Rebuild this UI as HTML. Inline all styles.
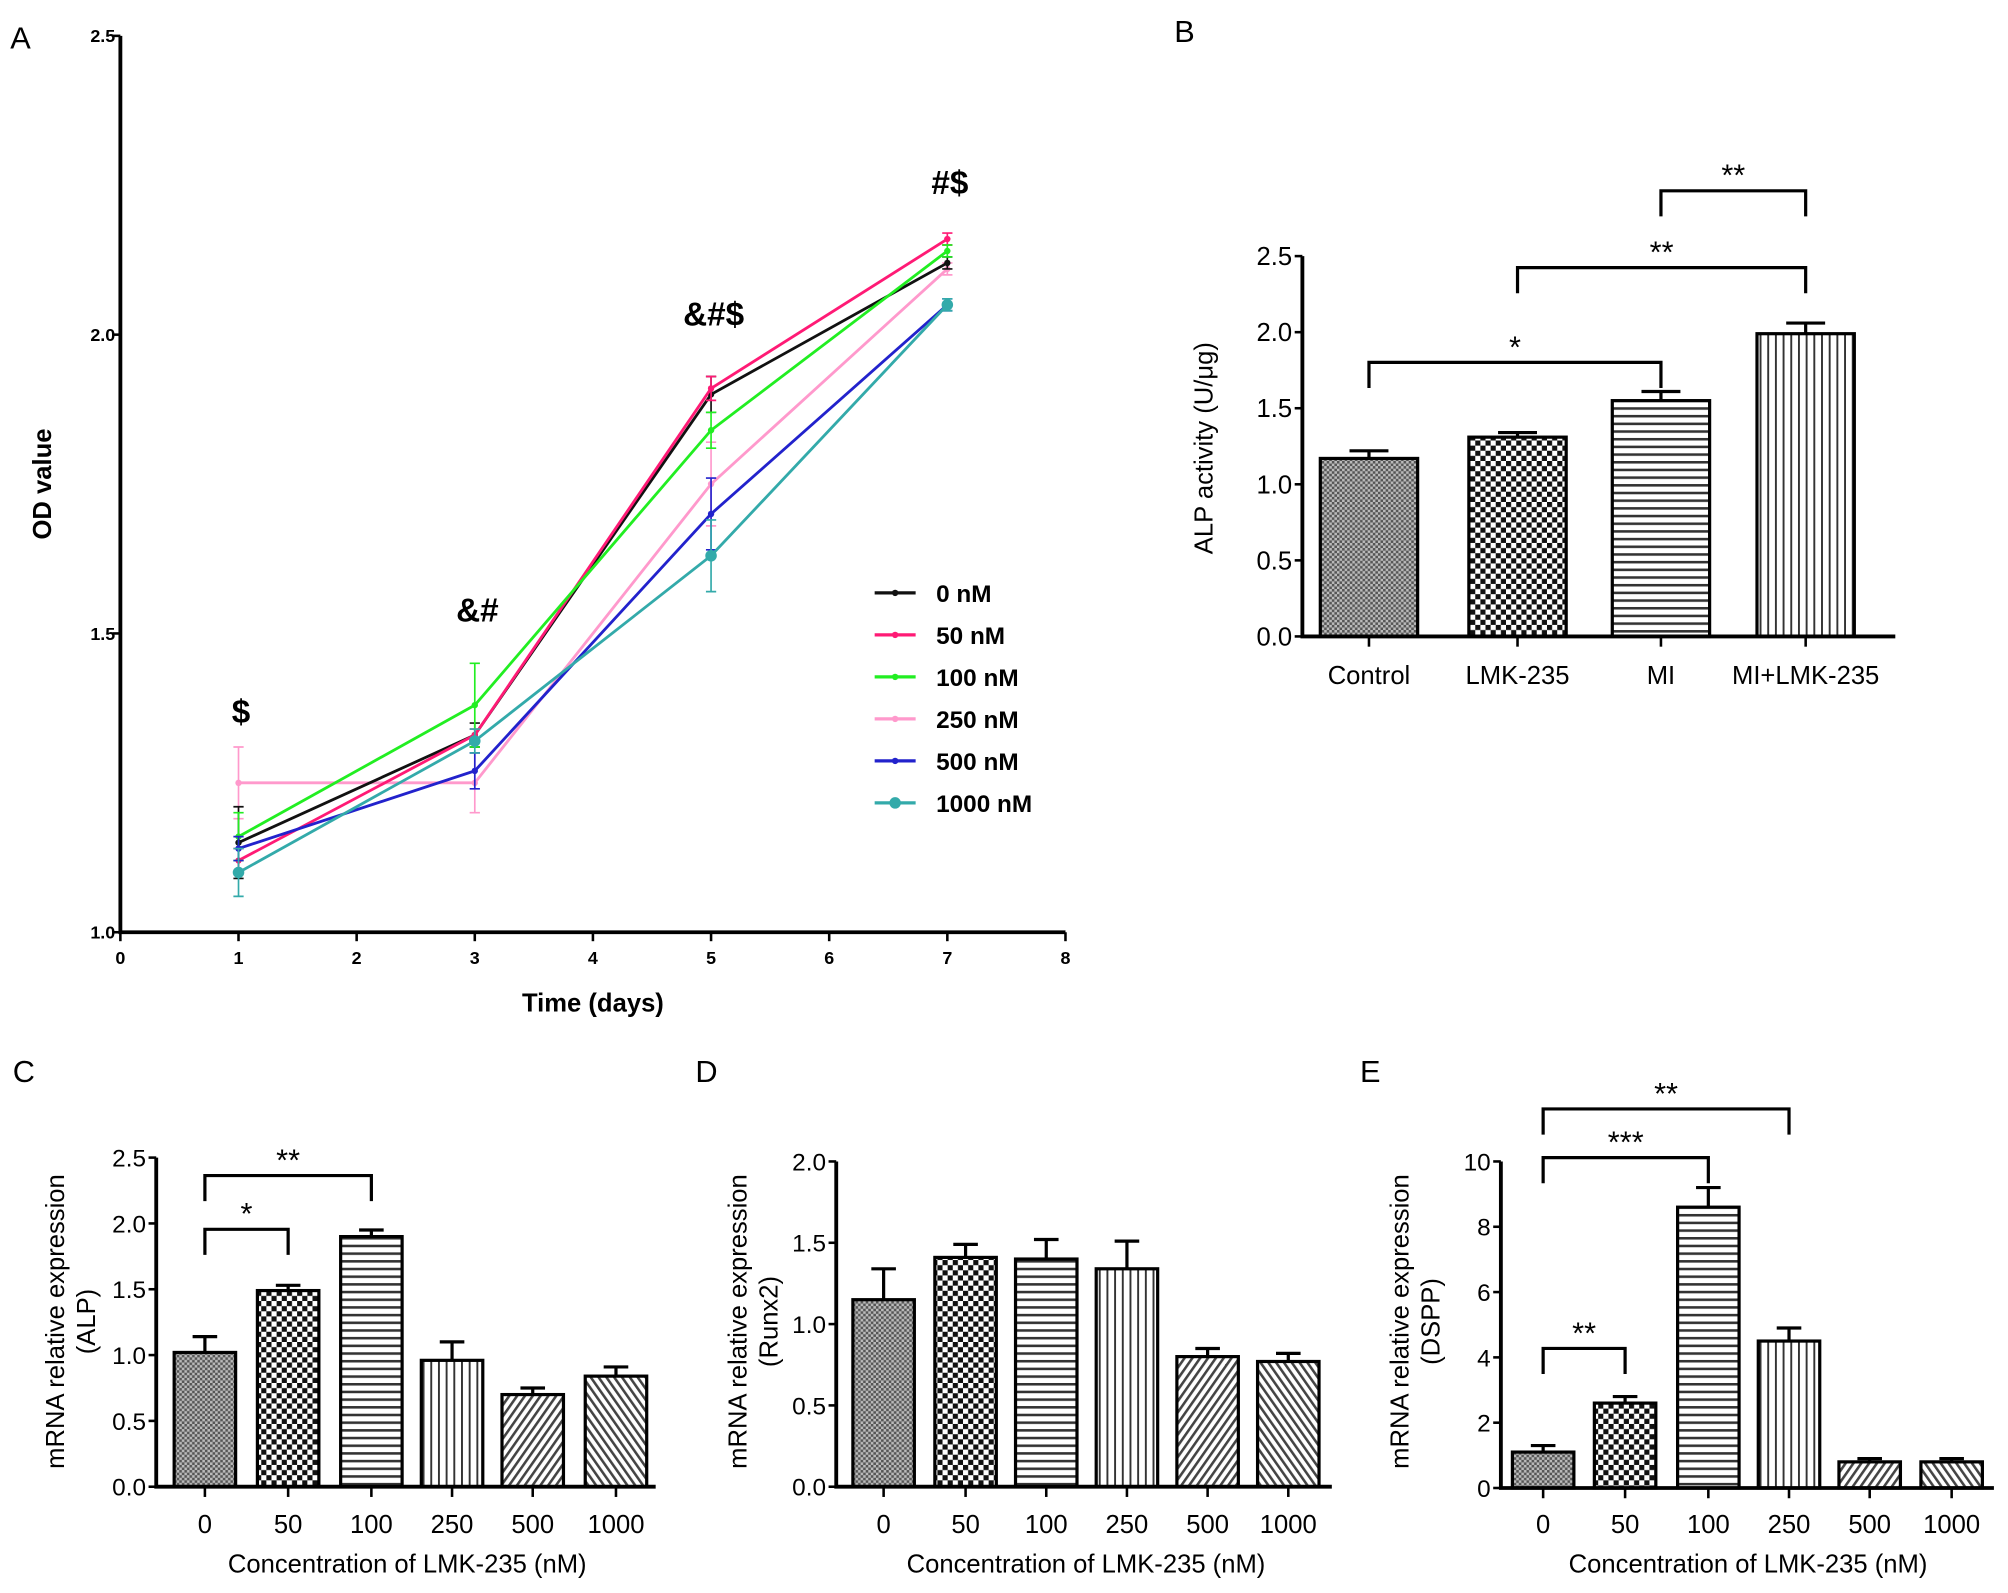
<!DOCTYPE html>
<html><head><meta charset="utf-8"><style>
html,body{margin:0;padding:0;background:#fff}
svg{display:block;font-family:"Liberation Sans",Arial,sans-serif}
</style></head><body>
<svg id="fig" width="2008" height="1593" viewBox="0 0 1568 1244" preserveAspectRatio="none" xmlns="http://www.w3.org/2000/svg">
<defs>
<pattern id="pGrid" width="4" height="4" patternUnits="userSpaceOnUse"><rect width="4" height="4" fill="#bbb"/><rect width="2" height="2" fill="#555"/><rect x="2" y="2" width="2" height="2" fill="#555"/></pattern>
<pattern id="pCheck" width="8" height="8" patternUnits="userSpaceOnUse"><rect width="8" height="8" fill="#fff"/><rect width="4" height="4" fill="#111"/><rect x="4" y="4" width="4" height="4" fill="#111"/></pattern>
<pattern id="pH" width="6" height="6" patternUnits="userSpaceOnUse"><rect width="6" height="6" fill="#fff"/><rect y="0" width="6" height="2" fill="#333"/></pattern>
<pattern id="pV" width="6" height="6" patternUnits="userSpaceOnUse"><rect width="6" height="6" fill="#fff"/><rect width="1.5" height="6" fill="#333"/></pattern>
<pattern id="pD1" width="5" height="5" patternUnits="userSpaceOnUse" patternTransform="rotate(35)"><rect width="5" height="5" fill="#fff"/><rect width="2" height="5" fill="#444"/></pattern>
<pattern id="pD2" width="5" height="5" patternUnits="userSpaceOnUse" patternTransform="rotate(-35)"><rect width="5" height="5" fill="#fff"/><rect width="2" height="5" fill="#444"/></pattern>
</defs>
<g id="gA"></g><g id="gB"></g><g id="gC"></g><g id="gD"></g><g id="gE"></g>
</svg>
<script>
// Panel A data
const daysA = [1,3,5,7];
const seriesNamesA = ["0 nM","50 nM","100 nM","250 nM","500 nM","1000 nM"];
const s0 = [1.15,1.33,1.90,2.12];
const s50 = [1.12,1.33,1.91,2.16];
const s100 = [1.16,1.38,1.84,2.14];
const s250 = [1.25,1.25,1.75,2.11];
const s500 = [1.14,1.27,1.70,2.05];
const s1000 = [1.10,1.32,1.63,2.05];
const e0 = [0.06,0.02,0.03,0.01];
const e50 = [0.02,0.01,0.02,0.01];
const e100 = [0.04,0.07,0.03,0.01];
const e250 = [0.06,0.05,0.07,0.01];
const e500 = [0.02,0.03,0.06,0.01];
const e1000 = [0.04,0.02,0.06,0.01];
const annotA = ["$","&#","&#$","#$"];
const annotAy = [1.35,1.52,2.015,2.235];
const xTicksA = [0,1,2,3,4,5,6,7,8];
const yTicksA = ["1.0","1.5","2.0","2.5"];
// Panel B data
const catsB = ["Control","LMK-235","MI","MI+LMK-235"];
const valsB = [1.17,1.31,1.55,1.99];
const errB = [0.05,0.03,0.06,0.07];
const yTicksB = ["0.0","0.5","1.0","1.5","2.0","2.5"];
// Panel C/D/E data
const catsCDE = ["0","50","100","250","500","1000"];
const valsC = [1.02,1.49,1.90,0.96,0.70,0.84];
const errC = [0.12,0.04,0.05,0.14,0.05,0.07];
const valsD = [1.15,1.41,1.40,1.34,0.80,0.77];
const errD = [0.19,0.08,0.12,0.17,0.05,0.05];
const valsE = [1.1,2.6,8.6,4.5,0.8,0.8];
const errE = [0.2,0.2,0.6,0.4,0.1,0.1];
const yTicksC = ["0.0","0.5","1.0","1.5","2.0","2.5"];
const yTicksD = ["0.0","0.5","1.0","1.5","2.0"];
const yTicksE = ["0","2","4","6","8","10"];

const NS="http://www.w3.org/2000/svg";
function mk(parent,tag,attrs,text){const e=document.createElementNS(NS,tag);for(const k in attrs)e.setAttribute(k,attrs[k]);if(text!==undefined)e.textContent=text;parent.appendChild(e);return e;}

// ---------- Panel A ----------
(function(){
const g=document.getElementById('gA');
const X0=94,Xs=92.25,Y0=728,Ys=(728-28)/1.5;
const xA=v=>X0+v*Xs, yA=v=>Y0-(v-1)*Ys;
let t=mk(g,'text',{x:8,y:38,'font-size':24},'A');


let ax=mk(g,'path',{d:`M${X0},${yA(2.5)}V${Y0}H${xA(8)}`,stroke:'#000','stroke-width':3,fill:'none'});


yTicksA.forEach(s=>{const y=yA(+s);mk(g,'line',{x1:X0-6,x2:X0,y1:y,y2:y,stroke:'#000','stroke-width':2});
 const tl=mk(g,'text',{x:X0-4,y:y+5,'font-size':14,'font-weight':'bold','text-anchor':'end'},s);
 
 });
xTicksA.forEach(v=>{const x=xA(v);mk(g,'line',{x1:x,x2:x,y1:Y0,y2:Y0+7,stroke:'#000','stroke-width':2});
 const tl=mk(g,'text',{x:x,y:Y0+25,'font-size':14,'font-weight':'bold','text-anchor':'middle'},v);
 
 });
t=mk(g,'text',{x:463,y:790,'font-size':20,'font-weight':'bold','text-anchor':'middle'},'Time (days)');


t=mk(g,'text',{x:0,y:0,'font-size':20,'font-weight':'bold','text-anchor':'middle',transform:'translate(40,378) rotate(-90)'},'OD value');


const vals=[s0,s50,s100,s250,s500,s1000], errs=[e0,e50,e100,e250,e500,e1000];
const cols=['#111','#ff1a75','#22ee22','#ff99cc','#2222cc','#33aaaa'];
const order=[3,0,1,2,4,5];
order.forEach(i=>{
 const sg=mk(g,'g',{});
 
 
 const pts=daysA.map((d,j)=>xA(d)+','+yA(vals[i][j])).join(' ');
 mk(sg,'polyline',{points:pts,fill:'none',stroke:cols[i],'stroke-width':2.2});
 daysA.forEach((d,j)=>{const x=xA(d),y1=yA(vals[i][j]+errs[i][j]),y2=yA(vals[i][j]-errs[i][j]);
  mk(sg,'path',{d:`M${x},${y1}V${y2}M${x-4},${y1}h8M${x-4},${y2}h8`,stroke:cols[i],'stroke-width':1.3,fill:'none'});
  mk(sg,'circle',{cx:x,cy:yA(vals[i][j]),r:i==5?4.5:2.5,fill:cols[i]});});
});
annotA.forEach((s,j)=>{const a=mk(g,'text',{x:xA(daysA[j])+2,y:yA(annotAy[j]),'font-size':26,'font-weight':'bold','text-anchor':'middle'},s);
 
 });
seriesNamesA.forEach((n,i)=>{const y=463+i*32.8;
 const lg=mk(g,'g',{});
 
 
 mk(lg,'line',{x1:683,x2:715,y1:y,y2:y,stroke:cols[i],'stroke-width':2.5});
 mk(lg,'circle',{cx:699,cy:y,r:i==5?4.5:2.5,fill:cols[i]});
 mk(lg,'text',{x:731,y:y+7,'font-size':19,'font-weight':'bold'},n);});
})();

// ---------- bar chart helper ----------
function barChart(g,cfg){
 const {ax,y0,ytop,vmax,ticks,cats,vals,errs,centers,bw,xend,fills,tickFs,catFs,catY,brackets}=cfg;
 const yS=v=>y0-v/vmax*(y0-ytop);
 vals.forEach((v,i)=>{
  const b=mk(g,'rect',{x:centers[i]-bw/2,y:yS(v),width:bw,height:y0-yS(v),fill:fills[i],stroke:'#000','stroke-width':2.5});
  
  
  const ye=yS(v+errs[i]);
  mk(g,'path',{d:`M${centers[i]},${yS(v)}V${ye}M${centers[i]-bw*0.2},${ye}h${bw*0.4}`,stroke:'#000','stroke-width':2.5,fill:'none'});
 });
 const a=mk(g,'path',{d:`M${ax},${ytop}V${y0}H${xend}`,stroke:'#000','stroke-width':3,fill:'none'});
 
 
 ticks.forEach(s=>{const y=yS(+s);mk(g,'line',{x1:ax-6,x2:ax,y1:y,y2:y,stroke:'#000','stroke-width':2});
  const tl=mk(g,'text',{x:ax-8,y:y+7,'font-size':tickFs,'text-anchor':'end'},s);
  
  });
 cats.forEach((c,i)=>{mk(g,'line',{x1:centers[i],x2:centers[i],y1:y0,y2:y0+8,stroke:'#000','stroke-width':2});
  const tl=mk(g,'text',{x:centers[i],y:catY,'font-size':catFs,'text-anchor':'middle'},c);
  
  });
 brackets.forEach(b=>{const x1=centers[b[0]],x2=centers[b[1]];
  const br=mk(g,'path',{d:`M${x1},${b[2]+20}V${b[2]}H${x2}V${b[2]+20}`,stroke:'#000','stroke-width':2.5,fill:'none'});
  
  
  const st=mk(g,'text',{x:(x1+x2)/2,y:b[2]-4,'font-size':24,'text-anchor':'middle'},b[3]);
  
  });
}
function label(g,x,y,s,name){const t=mk(g,'text',{x:x,y:y,'font-size':24},s);
 
 }
function ytitle(g,x,yc,lines,fs){lines.forEach((s,i)=>{const t=mk(g,'text',{x:0,y:0,'font-size':fs,'text-anchor':'middle',transform:`translate(${x+i*24},${yc}) rotate(-90)`},s);
 
 });}
function xtitle(g,x,y,s){const t=mk(g,'text',{x:x,y:y,'font-size':20,'text-anchor':'middle'},s);
 
 }

const fills6=['url(#pGrid)','url(#pCheck)','url(#pH)','url(#pV)','url(#pD1)','url(#pD2)'];

// B
(function(){const g=document.getElementById('gB');
 label(g,917,33,'B','panel-b-label');
 barChart(g,{ax:1017,y0:497,ytop:200,vmax:2.5,ticks:yTicksB,cats:catsB,vals:valsB,errs:errB,centers:[1069,1185,1297,1410],bw:76,xend:1480,fills:fills6.slice(0,4),tickFs:20,catFs:20,catY:534,
  brackets:[[0,2,283,'*'],[1,3,209,'**'],[2,3,149,'**']]});
 ytitle(g,947,350,['ALP activity (U/\u03bcg)'],20);
})();
// C
(function(){const g=document.getElementById('gC');
 label(g,10,845,'C','panel-c-label');
 barChart(g,{ax:122,y0:1161,ytop:904,vmax:2.5,ticks:yTicksC,cats:catsCDE,vals:valsC,errs:errC,centers:[160,225,290,353,416,481],bw:48,xend:512,fills:fills6,tickFs:19,catFs:20,catY:1197,
  brackets:[[0,1,960,'*'],[0,2,918,'**']]});
 ytitle(g,50,1032,['mRNA relative expression','(ALP)'],20);
 xtitle(g,318,1228,'Concentration of LMK-235 (nM)');
})();
// D
(function(){const g=document.getElementById('gD');
 label(g,543,845,'D','panel-d-label');
 barChart(g,{ax:653,y0:1161,ytop:907,vmax:2.0,ticks:yTicksD,cats:catsCDE,vals:valsD,errs:errD,centers:[690,754,817,880,943,1006],bw:48,xend:1040,fills:fills6,tickFs:19,catFs:20,catY:1197,
  brackets:[]});
 ytitle(g,583,1032,['mRNA relative expression','(Runx2)'],20);
 xtitle(g,848,1228,'Concentration of LMK-235 (nM)');
})();
// E
(function(){const g=document.getElementById('gE');
 label(g,1062,845,'E','panel-e-label');
 barChart(g,{ax:1172,y0:1162,ytop:907,vmax:10,ticks:yTicksE,cats:catsCDE,vals:valsE,errs:errE,centers:[1205,1269,1334,1397,1460,1524],bw:48,xend:1557,fills:fills6,tickFs:19,catFs:20,catY:1197,
  brackets:[[0,1,1053,'**'],[0,2,904,'***'],[0,3,866,'**']]});
 ytitle(g,1100,1032,['mRNA relative expression','(DSPP)'],20);
 xtitle(g,1365,1228,'Concentration of LMK-235 (nM)');
})();
</script>
</body></html>
